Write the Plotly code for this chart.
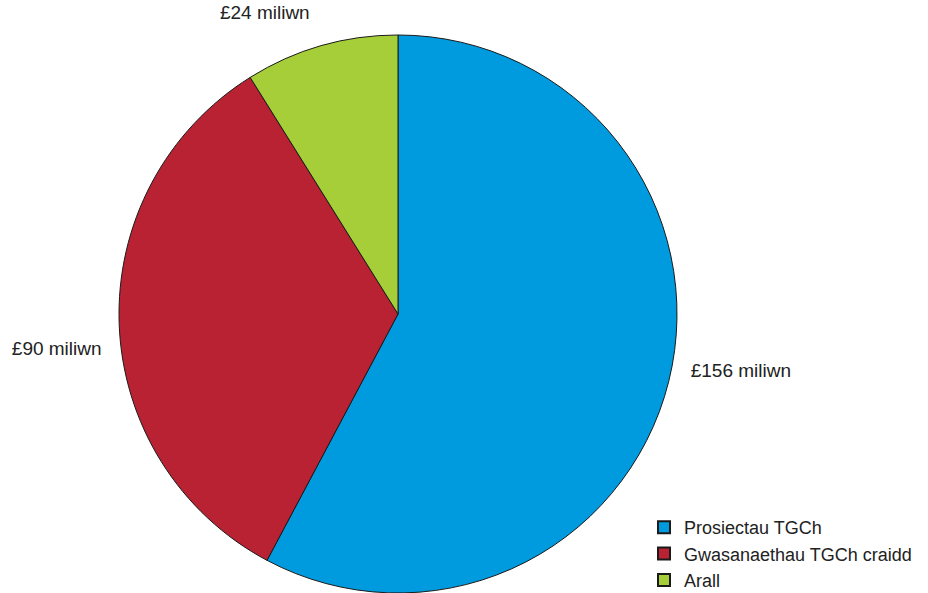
import plotly.graph_objects as go

labels = ["Prosiectau TGCh", "Gwasanaethau TGCh craidd", "Arall"]
values = [156, 90, 24]
colors = ["#009ADE", "#B82233", "#A6CE39"]
label_templates = [
    "\u00a0\u00a0£%{value} miliwn<br>\u00a0",
    "\u00a0<br>\u00a0<br>£%{value} miliwn",
    "£%{value} miliwn<br>\u00a0",
]

W, H = 928, 593
fig = go.Figure(go.Pie(
    labels=labels,
    values=values,
    sort=False,
    direction="clockwise",
    rotation=0,
    marker=dict(colors=colors, line=dict(color="#1a1a1a", width=1)),
    textposition="outside",
    texttemplate=label_templates,
    textfont=dict(size=19, color="#222222", family="Liberation Sans, Arial, sans-serif"),
    hoverinfo="label+value",
    domain=dict(x=[109 / W, 671 / W], y=[0.0, 1 - 35 / H]),
))
fig.update_layout(
    width=W, height=H,
    margin=dict(l=0, r=0, t=0, b=0, autoexpand=False),
    paper_bgcolor="white",
    font=dict(family="Liberation Sans, Arial, sans-serif", color="#222222"),
    legend=dict(x=636 / W, xanchor="left", y=-6 / H, yanchor="bottom",
                font=dict(size=18, color="#222222"), itemsizing="constant",
                bgcolor="rgba(0,0,0,0)"),
)
fig.write_html("out.html", post_script="document.body.style.marginTop='0px';")
